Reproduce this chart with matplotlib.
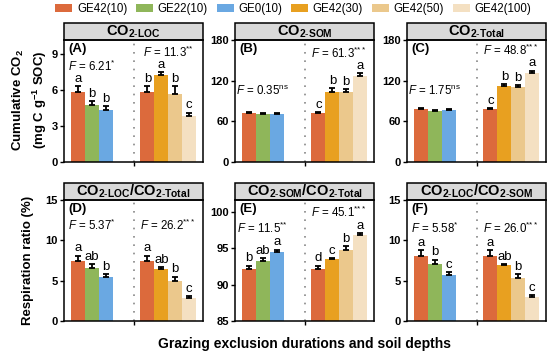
import numpy as np
import matplotlib
matplotlib.use('Agg')
from matplotlib import pyplot as plt
from matplotlib.patches import Rectangle

plt.rcParams['font.family'] = ['Liberation Sans', 'DejaVu Sans']
plt.rcParams['mathtext.fontset'] = 'custom'
plt.rcParams['mathtext.rm'] = 'Liberation Sans'
plt.rcParams['mathtext.it'] = 'Liberation Sans:italic'
plt.rcParams['mathtext.bf'] = 'Liberation Sans:bold'

## treatments and colours
treatments = ['GE42(10)', 'GE22(10)', 'GE0(10)', 'GE42(30)', 'GE42(50)', 'GE42(100)']
colors = ['#DC6A3C', '#8FB65A', '#6AA8E2', '#E8A020', '#EBC88C', '#F4E0C2']
# bar order: group 1 = GE42(10), GE22(10), GE0(10); group 2 = GE42(10), GE42(30), GE42(50), GE42(100)
bar_colors = [0, 1, 2, 0, 3, 4, 5]
positions = [0, 1, 2, 5, 6, 7, 8]

## values
loc_mean = [5.87, 4.75, 4.36, 5.87, 7.26, 5.67, 3.83]
loc_err = [0.47, 0.33, 0.30, 0.47, 0.28, 0.67, 0.30]
loc_let = ['a', 'b', 'b', 'b', 'a', 'b', 'c']

som_mean = [71.6, 70.4, 71.0, 71.6, 104.0, 104.0, 127.0]
som_err = [1.5, 1.5, 1.5, 1.5, 4.5, 3.5, 4.0]
som_let = ['', '', '', 'c', 'b', 'b', 'a']

tot_mean = [77.7, 74.8, 76.3, 77.7, 111.4, 110.0, 131.5]
tot_err = [1.5, 2.0, 1.5, 1.5, 4.0, 4.0, 3.5]
tot_let = ['', '', '', 'c', 'b', 'b', 'a']

r_loc_tot = [7.4, 6.6, 5.4, 7.4, 6.4, 5.0, 2.9]
r_loc_tot_err = [0.7, 0.5, 0.4, 0.7, 0.25, 0.5, 0.2]
r_loc_tot_let = ['a', 'ab', 'b', 'a', 'ab', 'b', 'c']

r_som_tot = [92.15, 93.2, 94.4, 92.15, 93.45, 94.8, 96.8]
r_som_tot_err = [0.45, 0.4, 0.4, 0.45, 0.15, 0.5, 0.25]
r_som_tot_let = ['b', 'ab', 'a', 'd', 'c', 'b', 'a']

r_loc_som = [8.0, 7.1, 5.7, 8.0, 6.9, 5.3, 3.0]
r_loc_som_err = [0.8, 0.5, 0.4, 0.8, 0.2, 0.5, 0.2]
r_loc_som_let = ['a', 'b', 'c', 'a', 'ab', 'b', 'c']

## F statistics: (value group1, signif, y1, value group2, signif, y2)
F_loc = ('6.21', '*', 8.0, '11.3', '**', 9.2)
F_som = ('0.35', 'ns', 104, '61.3', '***', 160)
F_tot = ('1.75', 'ns', 104, '48.8', '***', 164)
F_rlt = ('5.37', '*', 11.9, '26.2', '***', 11.9)
F_rst = ('11.5', '**', 97.7, '45.1', '***', 99.9)
F_rls = ('5.58', '*', 11.5, '26.0', '***', 11.5)

panels = [
	('(A)', r'$\mathbf{CO}_{\mathbf{2\text{-}LOC}}$', loc_mean, loc_err, loc_let, F_loc, (0, 10.2), [0, 3, 6, 9]),
	('(B)', r'$\mathbf{CO}_{\mathbf{2\text{-}SOM}}$', som_mean, som_err, som_let, F_som, (0, 180), [0, 60, 120, 180]),
	('(C)', r'$\mathbf{CO}_{\mathbf{2\text{-}Total}}$', tot_mean, tot_err, tot_let, F_tot, (0, 180), [0, 60, 120, 180]),
	('(D)', r'$\mathbf{CO}_{\mathbf{2\text{-}LOC}}\mathbf{/CO}_{\mathbf{2\text{-}Total}}$', r_loc_tot, r_loc_tot_err, r_loc_tot_let, F_rlt, (0, 15), [0, 5, 10, 15]),
	('(E)', r'$\mathbf{CO}_{\mathbf{2\text{-}SOM}}\mathbf{/CO}_{\mathbf{2\text{-}Total}}$', r_som_tot, r_som_tot_err, r_som_tot_let, F_rst, (85, 101.6), [85, 90, 95, 100]),
	('(F)', r'$\mathbf{CO}_{\mathbf{2\text{-}LOC}}\mathbf{/CO}_{\mathbf{2\text{-}SOM}}$', r_loc_som, r_loc_som_err, r_loc_som_let, F_rls, (0, 15), [0, 5, 10, 15]),
]

def f_label(val, sig):
	if sig.startswith('*'):
		sig = r'\!'.join(sig)
	else:
		sig = r'\mathrm{' + sig + '}'
	return r'$\mathit{F}$ = ' + val + r'$^{' + sig + '}$'

W, H = 548, 357
fig = plt.figure(figsize=(W/100, H/100), dpi=100)

lefts = [64, 235, 407]
rows = [(40, 162), (200, 321)]

for i, (tag, title, mean, err, let, Fs, ylim, yticks) in enumerate(panels):
	r, c = divmod(i, 3)
	top, bot = rows[r]
	ax = fig.add_axes([lefts[c]/W, 1 - bot/H, 139/W, (bot - top)/H])
	ax.bar(positions, np.array(mean) - ylim[0], bottom=ylim[0], width=1.0,
		color=[colors[k] for k in bar_colors], edgecolor='none', zorder=2)
	ax.errorbar(positions, mean, yerr=[np.zeros(len(err)), err], fmt='none',
		ecolor='black', elinewidth=1.3, capsize=2.5, capthick=1.3, zorder=3)
	span = ylim[1] - ylim[0]
	for x, m, e, l in zip(positions, mean, err, let):
		if l:
			ax.text(x, m + e + 0.01*span, l, ha='center', va='bottom', fontsize=9.5)
	ax.axvline(4, color='#888888', linestyle=(0, (1, 4)), linewidth=1.2, zorder=1)
	ax.set_xlim(-1, 9)
	ax.set_ylim(*ylim)
	ax.set_xticks([4])
	ax.set_xticklabels([])
	ax.set_yticks(yticks)
	ax.tick_params(axis='both', direction='out', length=3, width=1, labelsize=8, pad=1.5)
	for lab in ax.get_yticklabels():
		lab.set_fontweight('bold')
	for s in ax.spines.values():
		s.set_linewidth(1.1)
	ax.text(0.03, 0.975, tag, transform=ax.transAxes, ha='left', va='top',
		fontsize=9.5, fontweight='bold')
	ax.text(1, Fs[2], f_label(Fs[0], Fs[1]), ha='center', va='center', fontsize=8.3)
	ax.text(6.5, Fs[5], f_label(Fs[3], Fs[4]), ha='center', va='center', fontsize=8.3)
	# header strip
	hh = 17/(bot - top)
	ax.add_patch(Rectangle((0, 1), 1, hh, transform=ax.transAxes, facecolor='#D9D9D9',
		edgecolor='black', linewidth=1.1, clip_on=False))
	ax.text(0.5, 1 + hh/2, title, transform=ax.transAxes, ha='center', va='center',
		fontsize=10.5)

## legend
handles = [Rectangle((0, 0), 1, 1, facecolor=c, edgecolor='none') for c in colors]
fig.legend(handles, treatments, loc='center', bbox_to_anchor=(0.535, 1 - 9/H), ncol=6,
	frameon=False, fontsize=8.3, handlelength=1.5, handleheight=0.8,
	handletextpad=0.4, columnspacing=0.75)

fig.text(30/W, 1 - 100/H, 'Cumulative CO$_\\mathbf{2}$\n(mg C g$^\\mathbf{-1}$ SOC)', rotation=90,
	ha='center', va='center', fontsize=9.5, fontweight='bold', linespacing=1.3)
fig.text(28/W, 1 - 260/H, 'Respiration ratio (%)', rotation=90,
	ha='center', va='center', fontsize=9.5, fontweight='bold')
fig.text(305/W, 1 - 344/H, 'Grazing exclusion durations and soil depths',
	ha='center', va='center', fontsize=10, fontweight='bold')

fig.savefig('out.png', dpi=100)
